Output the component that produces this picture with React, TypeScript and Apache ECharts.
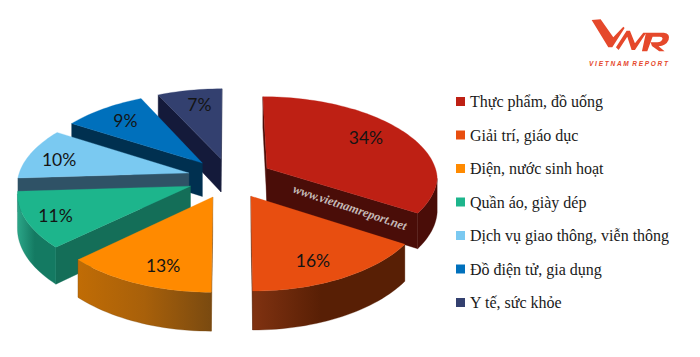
import React, { useEffect, useRef } from "react";
import * as echarts from "echarts";

const categories = [
  "Thực phẩm, đồ uống",
  "Giải trí, giáo dục",
  "Điện, nước sinh hoạt",
  "Quần áo, giày dép",
  "Dịch vụ giao thông, viễn thông",
  "Đồ điện tử, gia dụng",
  "Y tế, sức khỏe",
];
const values = [34, 16, 13, 11, 10, 9, 7];
const topColors = ["#BE2014", "#E84E10", "#FF8A00", "#1DB58C", "#7AC9F1", "#0070BC", "#33406F"];
const innerWallColors = ["#4A0D08", "#5C2005", "#7C4A10", "#146E58", "#2F5266", "#003050", "#141A3A"];
const rimLeftColors = ["#4A0D08", "#803211", "#C06C05", "#2BA688", "#2F5266", "#003050", "#141A3A"];
const rimRightColors = ["#4A0D08", "#581F05", "#7A4A10", "#147A62", "#2F5266", "#003050", "#141A3A"];

// projection of the tilted, exploded pie
const CX = 230, CY = 178, AX = 171, AY = 81, PERSPECTIVE = 0.104, PERSPECTIVE_NEAR = 0.075, PERSPECTIVE_FAR = 0.125, DEPTH = 34, EXPLODE = 0.25;
const paintOrder = [3, 6, 7, 5, 4, 2, 1];
const labelReach = [0.68, 0.8, 0.75, 0.85, 0.79, 0.71, 0.66];
const labelNudge = [[4, -6], [-10, 0], [6, 5], [4, 0], [-4, 2], [-5, -3], [0, -8]];

const project = (X: number, Y: number, drop = 0): [number, number] => {
  const w = 1 / (1 - PERSPECTIVE * Y);
  const wx = 1 / (1 - (Y < 0 ? PERSPECTIVE_FAR : PERSPECTIVE_NEAR) * Y);
  return [CX + AX * X * wx, CY + AY * Y * w + DEPTH * w * drop];
};

const total = values.reduce((a, b) => a + b, 0);
const sliceItem = (i: number) => {
  const before = values.slice(0, i).reduce((a, b) => a + b, 0);
  const a0 = (before / total) * Math.PI * 2;
  const a1 = ((before + values[i]) / total) * Math.PI * 2;
  const mid = (a0 + a1) / 2;
  const ox = EXPLODE * Math.sin(mid);
  const oy = -EXPLODE * Math.cos(mid);
  const rimPlane: [number, number][] = [];
  const steps = Math.max(8, Math.round(values[i] * 2));
  for (let s = 0; s <= steps; s++) {
    const t = a0 + ((a1 - a0) * s) / steps;
    rimPlane.push([ox + Math.sin(t), oy - Math.cos(t)]);
  }
  const top = [project(ox, oy), ...rimPlane.map((p) => project(p[0], p[1]))];
  const down = (P: [number, number]) => project(P[0], P[1], 1);
  const children: any[] = [];
  const quad = (P: [number, number], Q: [number, number], fill: any) => ({
    type: "polygon",
    shape: { points: [project(P[0], P[1]), project(Q[0], Q[1]), down(Q), down(P)] },
    style: { fill, stroke: fill, lineWidth: 0.4 },
  });
  const apex: [number, number] = [ox, oy];
  const first = rimPlane[0];
  const last = rimPlane[rimPlane.length - 1];
  if (project(first[0], first[1])[0] < project(apex[0], apex[1])[0])
    children.push(quad(apex, first, innerWallColors[i]));
  if (project(apex[0], apex[1])[0] < project(last[0], last[1])[0])
    children.push(quad(last, apex, innerWallColors[i]));
  // the part of the outer rim that faces the viewer
  const visible: [number, number][] = [];
  for (let s = 0; s < rimPlane.length - 1; s++) {
    const p = rimPlane[s], q = rimPlane[s + 1];
    if (project(q[0], q[1])[0] < project(p[0], p[1])[0]) {
      if (!visible.length) visible.push(p);
      visible.push(q);
    }
  }
  if (visible.length > 1) {
    const fill = {
      type: "linear", x: 0, y: 0, x2: 1, y2: 0,
      colorStops: [
        { offset: 0, color: rimLeftColors[i] },
        { offset: 0.45, color: rimRightColors[i] },
        { offset: 1, color: rimRightColors[i] },
      ],
    };
    if (i === 2) fill.colorStops[1] = { offset: 0.5, color: "#A8600A" };
    children.push({
      type: "polygon",
      shape: {
        points: [
          ...visible.map((p) => project(p[0], p[1])),
          ...visible.slice().reverse().map((p) => down(p)),
        ],
      },
      style: { fill, stroke: rimRightColors[i], lineWidth: 0.3 },
    });
  }
  children.push({
    type: "polygon",
    shape: { points: top },
    style: { fill: topColors[i], stroke: topColors[i], lineWidth: 0.3 },
  });
  const reach = labelReach[i];
  const [lx, ly] = project(ox + reach * Math.sin(mid), oy - reach * Math.cos(mid));
  children.push({
    type: "text",
    style: {
      text: `${values[i]}%`,
      x: lx + labelNudge[i][0],
      y: ly + labelNudge[i][1],
      fill: "#141414",
      font: "17.5px Lato, sans-serif",
      align: "center",
      verticalAlign: "middle",
    },
  });
  return { type: "group", children };
};

const LOGO_D =
  "M35 30 L62 28 L100 82 L130 50 L134 54 L97 112 L85 112 Z " +
  "M108 112 L140 62 L150 62 L165 100 L190 68 L199 68 L165 120 L155 120 L142 80 L116 120 Z " +
  "M198 68 L252 68 Q272 70 266 90 Q258 108 236 109 L254 124 L238 124 L216 108 L212 97 L232 97 Q246 95 248 86 Q248 80 240 80 L218 80 L202 124 L186 124 Z";
echarts.graphic.registerShape("vnrLogo", echarts.graphic.extendPath(LOGO_D, {}) as any);

export default function App() {
  const ref = useRef<HTMLDivElement>(null);
  useEffect(() => {
    const chart = echarts.init(ref.current!, undefined, { renderer: "svg" });
    chart.setOption({
      animation: false,
      backgroundColor: "#fff",
      legend: {
        orient: "vertical",
        left: 456,
        top: 92.5,
        padding: 0,
        data: categories,
        icon: "rect",
        itemWidth: 9,
        itemHeight: 9,
        itemGap: 15.5,
        selectedMode: false,
        textStyle: {
          fontFamily: "'Liberation Serif', serif",
          fontSize: 16,
          color: "#1a1a1a",
          lineHeight: 18,
        },
      },
      graphic: [
        {
          type: "text",
          z: 100,
          x: 350,
          y: 207.5,
          rotation: (-18.6 * Math.PI) / 180,
          style: {
            text: "www.vietnamreport.net",
            fill: "#C4B9B7",
            font: "italic bold 12.5px 'Liberation Serif', serif",
            align: "center",
            verticalAlign: "middle",
          },
        },
        { type: "vnrLogo", x: 580, y: 10, scaleX: 1 / 3, scaleY: 1 / 3, style: { fill: "#E5482B" } },
        {
          type: "text",
          x: 628.5,
          y: 63.5,
          style: {
            text: "V I E T N A M  R E P O R T",
            fill: "#E5482B",
            font: "italic bold 6.5px 'Liberation Sans', sans-serif",
            align: "center",
            verticalAlign: "middle",
          },
        },
      ],
      series: categories.map((name, i) => ({
        type: "custom",
        name,
        coordinateSystem: "none",
        z: paintOrder[i] + 2,
        itemStyle: { color: topColors[i] },
        data: [values[i]],
        renderItem: () => sliceItem(i),
      })),
    });
    return () => chart.dispose();
  }, []);
  return <div ref={ref} style={{ position: "absolute", left: 0, top: 0, width: 700, height: 357 }} />;
}
